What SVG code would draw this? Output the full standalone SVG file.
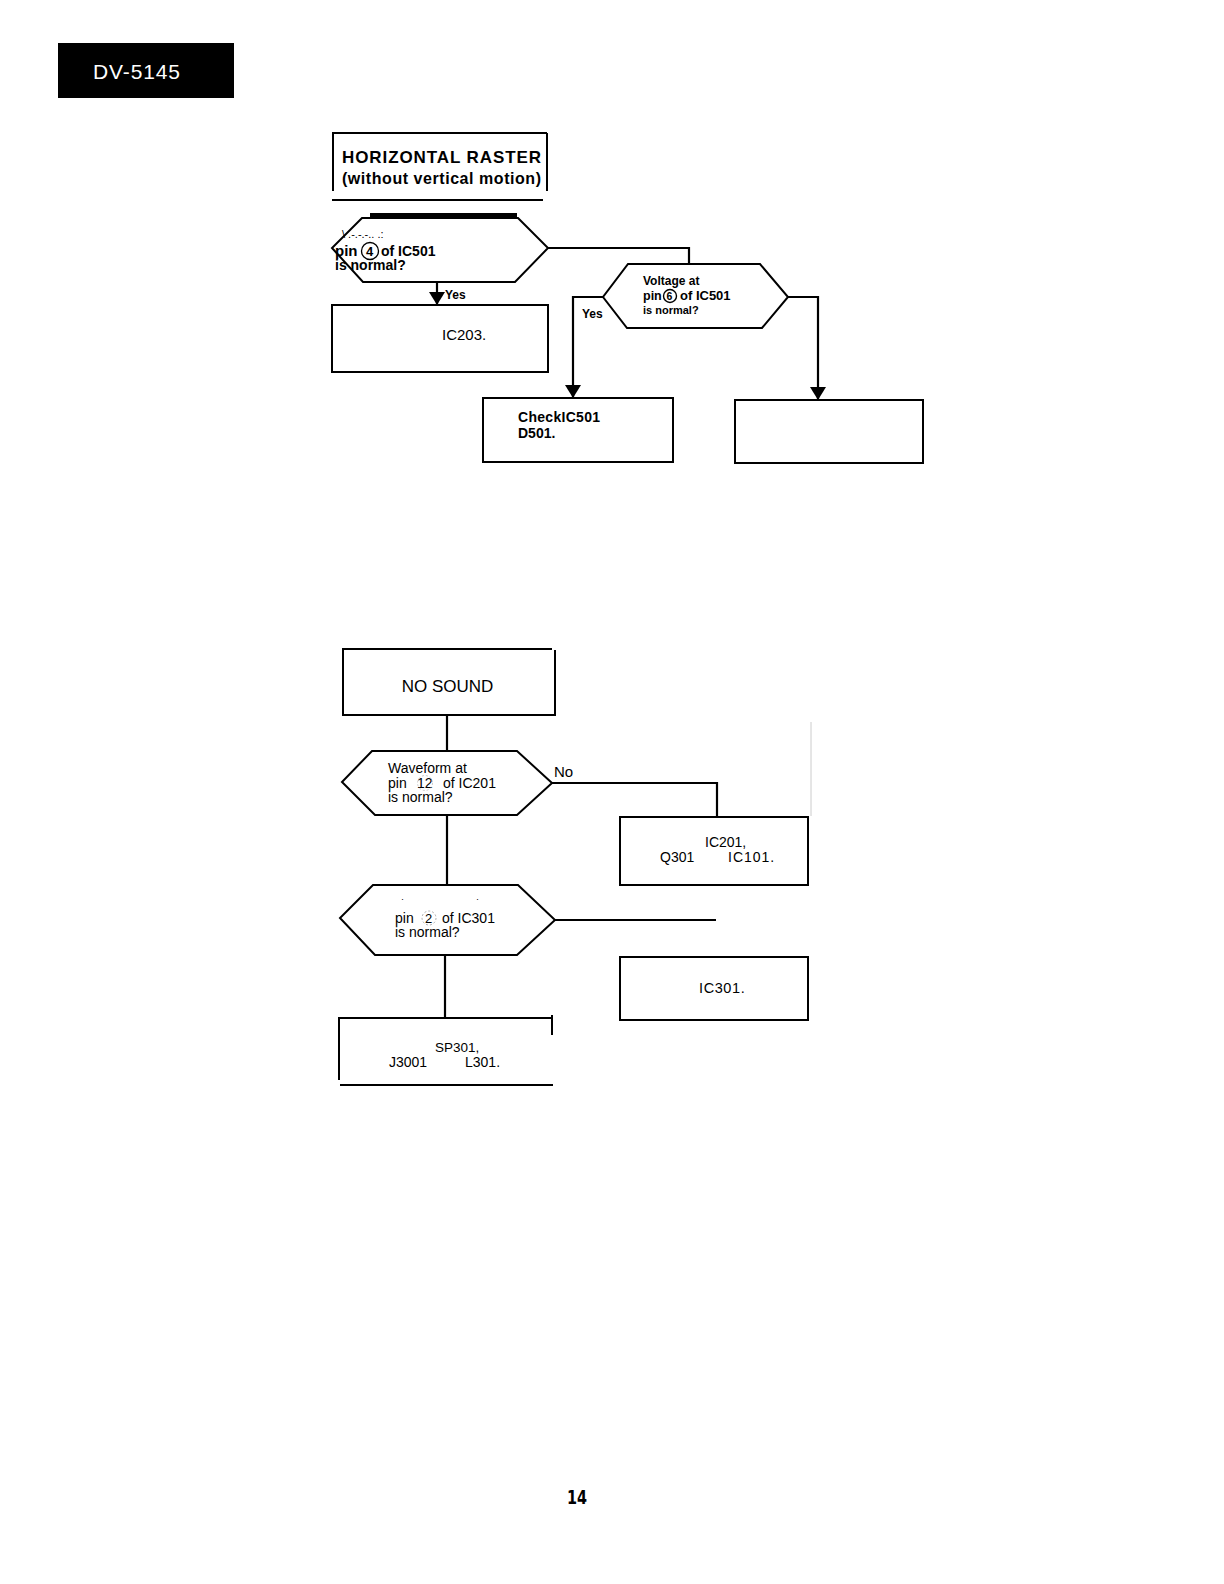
<svg xmlns="http://www.w3.org/2000/svg" width="1224" height="1584" viewBox="0 0 1224 1584">
<defs>
<marker id="arrDown" markerWidth="16" markerHeight="13" refX="8" refY="12" orient="0" markerUnits="userSpaceOnUse" viewBox="0 0 16 13">
<path d="M0,0 L16,0 L8,13 Z" fill="#000"/>
</marker>
</defs>
<style>
.t{font-family:"Liberation Sans",Arial,sans-serif;fill:#000}
.b{font-weight:bold}
.s{fill:none;stroke:#000;stroke-width:2}
.w{fill:#fff;stroke:#000;stroke-width:2}
.c{fill:none;stroke:#000;stroke-width:2.2}
</style>
<rect width="1224" height="1584" fill="#fff"/>

<g id="header">
<rect x="58" y="43" width="176" height="55" fill="#000"/>
<text class="t" x="93" y="79" font-size="21" textLength="87" lengthAdjust="spacing" style="fill:#fff">DV-5145</text>
</g>

<g id="connectors">
<line class="c" x1="437" y1="282" x2="437" y2="304" marker-end="url(#arrDown)"/>
<polyline class="c" points="548,248 689,248 689,263"/>
<polyline class="c" points="603,297 573,297 573,397" marker-end="url(#arrDown)"/>
<polyline class="c" points="788,297 818,297 818,399" marker-end="url(#arrDown)"/>
<line class="c" x1="447" y1="715" x2="447" y2="751"/>
<polyline class="c" points="552,783 717,783 717,817"/>
<line class="c" x1="447" y1="815" x2="447" y2="885"/>
<line class="c" x1="555" y1="920" x2="716" y2="920"/>
<line class="c" x1="445" y1="955" x2="445" y2="1018"/>
<line x1="811" y1="722" x2="811" y2="816" stroke="#ccc" stroke-width="1"/>
<text class="t b" x="445" y="299" font-size="12">Yes</text>
<text class="t b" x="582" y="318" font-size="12">Yes</text>
<text class="t" x="554" y="777" font-size="15">No</text>
</g>

<g id="n_horizontal_raster">
<line class="s" x1="332" y1="133" x2="547" y2="133" stroke-width="1.5"/>
<line class="s" x1="333" y1="133" x2="333" y2="191" stroke-width="2.5"/>
<line class="s" x1="547" y1="133" x2="547" y2="191" stroke-width="2.5"/>
<line class="s" x1="332" y1="200" x2="543" y2="200" stroke-width="3.5"/>
<text class="t b" x="342" y="163" font-size="17" textLength="199" lengthAdjust="spacing">HORIZONTAL RASTER</text>
<text class="t b" x="342" y="184" font-size="16" textLength="199" lengthAdjust="spacing">(without vertical motion)</text>
</g>

<g id="n_pin4">
<polygon class="w" points="362,218 518,218 548,248 515,282 363,282 332,248"/>
<line x1="370" y1="215" x2="517" y2="215" stroke="#000" stroke-width="4"/>
<text class="t" x="342" y="238" font-size="11" fill="#333">\ .-.-.-.. .:</text>
<text class="t b" x="335" y="256" font-size="15">pin</text>
<circle cx="370" cy="251" r="8.5" fill="none" stroke="#000" stroke-width="1.3"/>
<text class="t b" x="366" y="256" font-size="13">4</text>
<text class="t b" x="381" y="256" font-size="14">of IC501</text>
<text class="t b" x="335" y="270" font-size="14">is normal?</text>
</g>

<g id="n_ic203">
<rect class="w" x="332" y="305" width="216" height="67"/>
<text class="t" x="442" y="340" font-size="15">IC203.</text>
</g>

<g id="n_pin6">
<polygon class="w" points="628,264 760,264 788,297 762,328 627,328 603,297"/>
<text class="t b" x="643" y="285" font-size="12">Voltage at</text>
<text class="t b" x="643" y="300" font-size="12.5">pin</text>
<circle cx="670" cy="296" r="6.5" fill="none" stroke="#000" stroke-width="1.4"/>
<text class="t b" x="666.5" y="300" font-size="10.5">6</text>
<text class="t b" x="680" y="300" font-size="13">of IC501</text>
<text class="t b" x="643" y="314" font-size="11">is normal?</text>
</g>

<g id="n_check_ic501">
<rect class="w" x="483" y="398" width="190" height="64"/>
<text class="t b" x="518" y="422" font-size="14" textLength="82" lengthAdjust="spacing">CheckIC501</text>
<text class="t b" x="518" y="438" font-size="14">D501.</text>
</g>

<g id="n_empty">
<rect class="w" x="735" y="400" width="188" height="63"/>
</g>

<g id="n_no_sound">
<line class="s" x1="342" y1="649" x2="552" y2="649" stroke-width="2.5"/>
<line class="s" x1="343" y1="650" x2="343" y2="715" stroke-width="2.5"/>
<line class="s" x1="555" y1="650" x2="555" y2="715" stroke-width="2.5"/>
<line class="s" x1="342" y1="715" x2="556" y2="715" stroke-width="2.5"/>
<text class="t" x="447.5" y="692" font-size="17" text-anchor="middle">NO SOUND</text>
</g>

<g id="n_pin12">
<polygon class="w" points="372,751 517,751 552,783 517,815 375,815 342,782"/>
<text class="t" x="388" y="773" font-size="14">Waveform at</text>
<text class="t" x="388" y="788" font-size="14">pin</text>
<text class="t" x="417" y="788" font-size="14">12</text>
<circle cx="425" cy="783" r="7.5" fill="none" stroke="#bbb" stroke-width="0.8" stroke-dasharray="2 2"/>
<text class="t" x="443" y="788" font-size="14">of IC201</text>
<text class="t" x="388" y="802" font-size="14">is normal?</text>
</g>

<g id="n_ic201">
<rect class="w" x="620" y="817" width="188" height="68"/>
<text class="t" x="705" y="847" font-size="14">IC201,</text>
<text class="t" x="660" y="862" font-size="14">Q301</text>
<text class="t" x="728" y="862" font-size="14" letter-spacing="1">IC101.</text>
</g>

<g id="n_pin2">
<polygon class="w" points="373,885 518,885 555,920 517,955 375,955 340,918"/>
<text class="t" x="401" y="902" font-size="9" fill="#777">·</text>
<text class="t" x="476" y="902" font-size="9" fill="#777">·</text>
<text class="t" x="395" y="923" font-size="14">pin</text>
<circle cx="429" cy="918" r="7" fill="none" stroke="#999" stroke-width="0.8" stroke-dasharray="2 2"/>
<text class="t" x="425" y="923" font-size="13">2</text>
<text class="t" x="442" y="923" font-size="14">of IC301</text>
<text class="t" x="395" y="937" font-size="14">is normal?</text>
</g>

<g id="n_ic301">
<rect class="w" x="620" y="957" width="188" height="63"/>
<text class="t" x="699" y="993" font-size="14.5" letter-spacing="0.6">IC301.</text>
</g>

<g id="n_sp301">
<line class="s" x1="338" y1="1018" x2="553" y2="1018" stroke-width="3"/>
<line class="s" x1="339" y1="1017" x2="339" y2="1080" stroke-width="2.5"/>
<line class="s" x1="552" y1="1015" x2="552" y2="1035" stroke-width="3.5"/>
<line class="s" x1="340" y1="1085" x2="553" y2="1085" stroke-width="3"/>
<text class="t" x="435" y="1052" font-size="13.5">SP301,</text>
<text class="t" x="389" y="1067" font-size="14">J3001</text>
<text class="t" x="465" y="1067" font-size="14">L301.</text>
</g>

<g id="page_number">
<text class="t b" x="567" y="1504" font-size="20" textLength="20" lengthAdjust="spacingAndGlyphs" style="font-family:'DejaVu Sans Condensed','Liberation Sans',sans-serif">14</text>
</g>
</svg>
